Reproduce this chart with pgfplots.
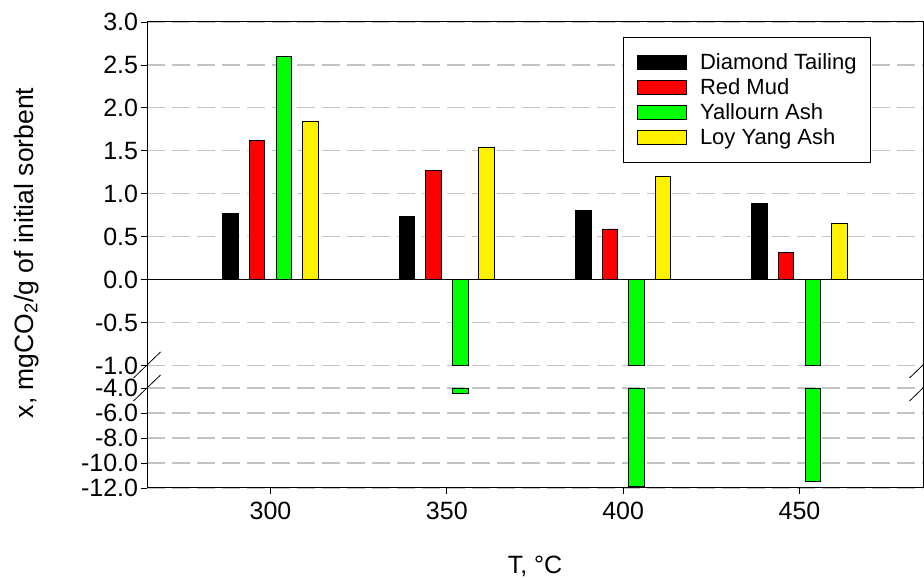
\documentclass[border=0pt]{standalone}
\usepackage{fontspec}
\setmainfont{Liberation Sans}
\usepackage{pgfplots}
\pgfplotsset{compat=1.18}
\usepackage{pgfplotstable}
\pgfplotstableread{
T DT RM YA LY
300 0.77 1.62 2.60 1.84
350 0.74 1.27 -4.43 1.54
400 0.81 0.59 -11.84 1.20
450 0.89 0.32 -11.50 0.65
}\datatable
\definecolor{gridgray}{RGB}{195,195,195}
\begin{document}
\begin{tikzpicture}[x=1pt,y=1pt]
\useasboundingbox (0,0) rectangle (924,578);
\pgfplotsset{
  common/.style={
    scale only axis, width=776pt, xmin=265, xmax=485,
    axis line style={draw=none},
    tick align=outside, major tick length=6pt,
    tick style={black, line width=0.8pt},
    tick pos=left,
    clip=false,
    ymajorgrids,
    grid style={gridgray, dash pattern=on 18pt off 7pt, line width=1.2pt},
    ticklabel style={font=\fontsize{25}{29}\selectfont, inner sep=0pt},
    yticklabel style={xshift=-2.7pt},
    xticklabel style={yshift=-7.7pt},
    /pgf/number format/assume math mode=true,
    ybar, bar width=4.4,
    legend image code/.code={\draw[##1] (0pt,-7pt) rectangle (49pt,7pt); \path (62pt,0pt);},
  },
  mybar/.style={draw=black, line width=0.9pt, fill=#1},
}
\begin{axis}[common,
  name=top,
  at={(147pt,212.5pt)}, anchor=south west,
  height=343.5pt,
  ymin=-1, ymax=3,
  ytick={-1,-0.5,0,0.5,1,1.5,2,2.5,3},
  yticklabel style={/pgf/number format/.cd, fixed, fixed zerofill, precision=1},
  xtick=\empty,
  extra y ticks={0}, extra y tick labels={},
  extra y tick style={grid style={solid, black, line width=0.8pt}},
  legend style={at={(0.6134,0.957)}, anchor=north west, draw=black, line width=0.8pt,
    font=\fontsize{22}{26}\selectfont, row sep=5pt, inner xsep=13.7pt, inner ysep=15pt,
    nodes={inner sep=0pt, text height=17pt, text depth=3pt}},
  legend cell align=left,
]
\addplot[mybar=black, bar shift=-11.3] table[x=T, y=DT]{\datatable};
\addplot[mybar=red, bar shift=-3.8] table[x=T, y=RM]{\datatable};
\addplot[mybar=green, bar shift=3.8, y filter/.expression={y < -1 ? -1 : y}] table[x=T, y=YA]{\datatable};
\addplot[mybar=yellow, bar shift=11.3] table[x=T, y=LY]{\datatable};
\legend{Diamond Tailing, Red Mud, Yallourn Ash, Loy Yang Ash}
\end{axis}
\begin{axis}[common,
  name=bot,
  at={(147pt,90pt)}, anchor=south west,
  height=100pt,
  ymin=-8, ymax=0,
  ytick={-8,-6,-4,-2,0},
  yticklabels={-12.0,-10.0,-8.0,-6.0,-4.0},
  xtick={300,350,400,450},
]
\addplot[mybar=green, bar shift=3.8, restrict x to domain=340:460, y filter/.expression={y+4}] table[x=T, y=YA]{\datatable};
\end{axis}
\draw[line width=1pt] (147,90) rectangle (923,556);
\draw[line width=0.8pt] (133.5,200) -- (160.5,226);
\draw[line width=0.8pt] (133.5,177) -- (160.5,203);
\draw[line width=0.8pt] (909.5,200) -- (936.5,226);
\draw[line width=0.8pt] (909.5,177) -- (936.5,203);
\node[rotate=90, anchor=base, font=\fontsize{26.5}{32}\selectfont] at (33,325) {x, mgCO\textsubscript{2}/g of initial sorbent};
\node[anchor=base, font=\fontsize{25}{30}\selectfont] at (535,4) {T, °C};
\end{tikzpicture}
\end{document}
